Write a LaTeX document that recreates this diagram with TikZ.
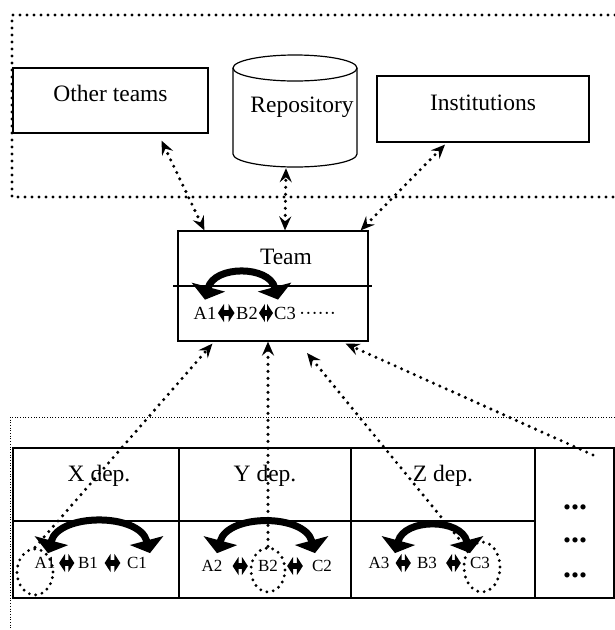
\documentclass[tikz,border=0pt]{standalone}
\usepackage{fontspec}
\setmainfont{Liberation Serif}
\usetikzlibrary{arrows.meta,shapes.geometric,positioning}
\newcommand{\lblfont}{\fontsize{23.5}{28}\selectfont}
\newcommand{\itemfont}{\fontsize{17}{20}\selectfont}
\newcommand{\titemfont}{\fontsize{18.5}{22}\selectfont}

\begin{document}
\begin{tikzpicture}[x=1pt,y=-1pt,
  box/.style={rectangle,draw,line width=1.2pt,inner sep=0pt,font=\lblfont},
  cell/.style={rectangle,draw,line width=1.2pt,inner sep=0pt,outer sep=0pt},
  lbl/.style={inner sep=0pt,font=\lblfont},
  item/.style={inner sep=1pt,font=\itemfont},
  titem/.style={inner sep=1pt,font=\titemfont},
  dotline/.style={line width=3.4pt,dash pattern=on 0pt off 7pt,line cap=round},
  finedot/.style={line width=1pt,dash pattern=on 1pt off 1.7pt},
  link/.style={dotline,{Stealth[length=14pt,width=12pt,inset=5pt]}-{Stealth[length=14pt,width=12pt,inset=5pt]}},
  uplink/.style={dotline,-{Stealth[length=14pt,width=12pt,inset=5pt]}},
  ring/.style={ellipse,draw,line width=3.2pt,dash pattern=on 0pt off 6.5pt,line cap=round,inner sep=0pt},
  turnarrow/.style={line width=7pt,{Triangle[width=34pt,length=13pt]}-{Triangle[width=34pt,length=13pt]},
               out=75,in=105,looseness=#1},
  turnarrow/.default=1.25,
  xchg/.style={line width=6pt,{Triangle[width=18pt,length=6pt]}-{Triangle[width=18pt,length=6pt]},
               shorten <=#1,shorten >=#1}]
\useasboundingbox (0,0) rectangle (615,630);

% outside world
\draw[dotline] (615,15) -- (12,15) -- (12,197) -- (615,197);
\node[box,minimum width=195pt,minimum height=65pt,text depth=15pt] (other) at (110.5,100.5) {Other teams};
\node[inner sep=0pt,minimum width=124pt,minimum height=112pt] (repo) at (295,111) {};
\draw[line width=1.2pt] (295,68) ellipse [x radius=62,y radius=13];
\draw[line width=1.2pt] (233,68) -- (233,154) arc[start angle=180,end angle=0,x radius=62,y radius=13] -- (357,68);
\node[lbl] (repolbl) at (302,107) {Repository};
\node[box,minimum width=212pt,minimum height=66pt,text depth=12pt] (inst) at (483,109) {Institutions};

% team
\node[box,minimum width=190pt,minimum height=110pt] (team) at (273,286) {};
\node[lbl] (teamlbl) at (286,257) {Team};
\draw[line width=1.2pt] ([xshift=-4pt]team.west) -- ([xshift=3pt]team.east);
\node[titem] (a1t) at (205,313) {A1};
\node[titem] (b2t) at (247,313) {B2};
\node[titem] (c3t) at (285,313) {C3};
\node[titem,anchor=base west,inner sep=0pt] (tdots) at ([xshift=2pt]c3t.base east) {······};

% departments
\draw[finedot] (615,417) -- (10,417) -- (10,630);
\node[cell,minimum width=166pt,minimum height=73pt] (xhead) at (96,484.5) {};
\node[cell,minimum width=166pt,minimum height=77pt,below=0pt of xhead] (xrow) {};
\node[cell,minimum width=172pt,minimum height=73pt,right=0pt of xhead] (yhead) {};
\node[cell,minimum width=172pt,minimum height=77pt,below=0pt of yhead] (yrow) {};
\node[cell,minimum width=184pt,minimum height=73pt,right=0pt of yhead] (zhead) {};
\node[cell,minimum width=184pt,minimum height=77pt,below=0pt of zhead] (zrow) {};
\node[cell,minimum width=79pt,minimum height=150pt,anchor=north west] (more) at (zhead.north east) {};
\node[lbl] (xlbl) at (99,476) {X dep.};
\node[lbl] (ylbl) at (265,476) {Y dep.};
\node[lbl] (zlbl) at (443,476) {Z dep.};
\node[inner sep=0pt,font=\bfseries\fontsize{32}{32}\selectfont] (md1) at (575,507) {...};
\node[inner sep=0pt,font=\bfseries\fontsize{32}{32}\selectfont] (md2) at (575,540) {...};
\node[inner sep=0pt,font=\bfseries\fontsize{32}{32}\selectfont] (md3) at (575,575) {...};

\node[item] (a1x) at (45,563) {A1};
\node[item] (b1x) at (88,563) {B1};
\node[item] (c1x) at (137,563) {C1};
\node[item] (a2y) at (212,566) {A2};
\node[item] (b2y) at (268,566) {B2};
\node[item] (c2y) at (322,566) {C2};
\node[item] (a3z) at (379,563) {A3};
\node[item] (b3z) at (427,563) {B3};
\node[item] (c3z) at (480,563) {C3};

\node[ring,minimum width=36pt,minimum height=46pt] (ringx) at (35,572) {};
\node[ring,minimum width=34pt,minimum height=44pt] (ringy) at (268,570) {};
\node[ring,minimum width=36pt,minimum height=50pt] (ringz) at (482,567) {};

% links to the outside
\draw[link] ([xshift=27pt]team.north west) -- ([xshift=51pt,yshift=-7pt]other.south);
\draw[link] ([xshift=12pt]team.north) -- ([xshift=-9pt,yshift=-1pt]repo.south);
\draw[link] ([xshift=-8pt]team.north east) -- ([xshift=-38pt,yshift=-2pt]inst.south);

% links from departments
\coordinate (zfree) at (307,353);
\coordinate (rfree) at (593,455);
\draw[uplink] (ringx.north) -- ([xshift=35pt,yshift=-2pt]team.south west);
\draw[uplink] (ringy.north) -- (ringy.north |- team.south);
\draw[uplink] (ringz) -- (zfree);
\draw[uplink] (rfree) -- ([xshift=-23pt,yshift=-2pt]team.south east);

% exchanges
\draw[turnarrow] ([yshift=6pt]a1t.north) to ([xshift=-7pt,yshift=6pt]c3t.north);
\draw[xchg=0.5pt] (a1t) -- (b2t);
\draw[xchg=0pt] (b2t) -- (c3t);
\draw[turnarrow=1.05] ([xshift=3pt,yshift=3pt]a1x.north) to ([xshift=13pt,yshift=3pt]c1x.north);
\draw[xchg=2.5pt] (a1x) -- (b1x);
\draw[xchg=5.5pt] (b1x) -- (c1x);
\draw[turnarrow=1.07] ([xshift=5pt,yshift=6pt]a2y.north) to ([xshift=-7pt,yshift=6pt]c2y.north);
\draw[xchg=9pt] (a2y) -- (b2y);
\draw[xchg=8pt] (b2y) -- (c2y);
\draw[turnarrow=1.24] ([xshift=16pt,yshift=3pt]a3z.north) to ([xshift=-10pt,yshift=3pt]c3z.north);
\draw[xchg=5pt] (a3z) -- (b3z);
\draw[xchg=8pt] (b3z) -- (c3z);
\end{tikzpicture}
\end{document}
